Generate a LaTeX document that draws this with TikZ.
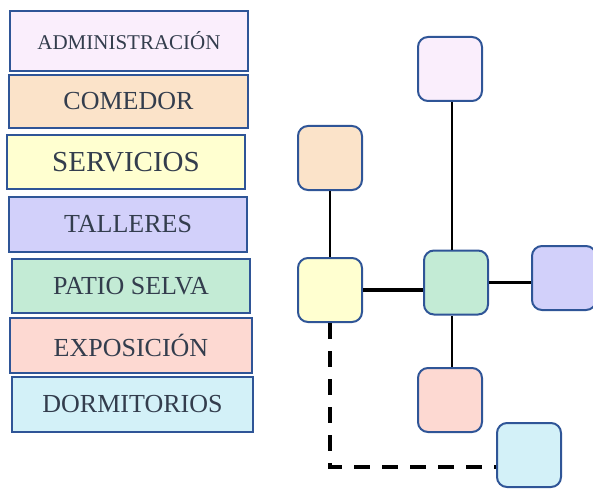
\documentclass[tikz,border=0pt]{standalone}
\usepackage{fontspec}
\setmainfont{Liberation Serif}
\definecolor{bd}{HTML}{2F5597}
\definecolor{tx}{HTML}{333D4D}
\definecolor{cad}{HTML}{FAEEFC}
\definecolor{cco}{HTML}{FBE3C9}
\definecolor{csv}{HTML}{FFFFD0}
\definecolor{cta}{HTML}{D2D0FA}
\definecolor{cps}{HTML}{C3EBD5}
\definecolor{cex}{HTML}{FDD9D2}
\definecolor{cdm}{HTML}{D3F1F8}
\begin{document}
\begin{tikzpicture}[x=1pt,y=1pt,
  legbox/.style={draw=bd,line width=2.5pt,inner sep=0pt,text=tx,font=\fontsize{26}{28}\selectfont},
  sq/.style={draw=bd,line width=2pt,rounded corners=10pt,minimum size=64pt,inner sep=0pt},
  thinln/.style={line width=2pt,black},
  thickln/.style={line width=3.5pt,black},
  dashln/.style={line width=3.5pt,black,dash pattern=on 16pt off 12pt}]
\useasboundingbox (0,0) rectangle (593,488);
% legend boxes
\node[legbox,fill=cad,minimum width=238pt,minimum height=60pt,font=\fontsize{21}{23}\selectfont] (la) at (129,447) {ADMINISTRACIÓN};
\node[legbox,fill=cco,minimum width=239pt,minimum height=53pt] (lc) at (128.5,386.5) {COMEDOR};
\node[legbox,fill=csv,minimum width=238pt,minimum height=54pt,font=\fontsize{29}{31}\selectfont] (ls) at (126,326) {SERVICIOS};
\node[legbox,fill=cta,minimum width=238pt,minimum height=55pt] (lt) at (128,263.5) {TALLERES};
\node[legbox,fill=cps,minimum width=238pt,minimum height=54pt] (lp) at (131,202) {PATIO SELVA};
\node[legbox,fill=cex,minimum width=242pt,minimum height=55pt] (le) at (131,142.5) {EXPOSICIÓN};
\node[legbox,fill=cdm,minimum width=241pt,minimum height=55pt] (ld) at (132.5,83.5) {DORMITORIOS};
% squares
\node[sq,fill=cad] (as) at (450,419) {};
\node[sq,fill=cco] (cs) at (330,330) {};
\node[sq,fill=csv] (sv) at (330,198) {};
\node[sq,fill=cps] (ps) at (456,205.5) {};
\node[sq,fill=cta] (ta) at (564,210) {};
\node[sq,fill=cex] (ex) at (450,88) {};
\node[sq,fill=cdm] (dm) at (529,33) {};
% connectors
\coordinate (dmin) at ([yshift=-12pt]dm.west);
\draw[thinln] ([xshift=2pt]as.south) -- ([xshift=2pt]as.south |- ps.north);
\draw[thinln] (cs.south) -- (sv.north);
\draw[thickln] (sv.east) -- (sv.east -| ps.west);
\draw[thickln] (ps.east) -- (ps.east -| ta.west);
\draw[thinln] ([xshift=2pt]ex.north) -- ([xshift=2pt]ex.north |- ps.south);
\draw[dashln] (sv.south) |- (dmin);
\end{tikzpicture}
\end{document}
